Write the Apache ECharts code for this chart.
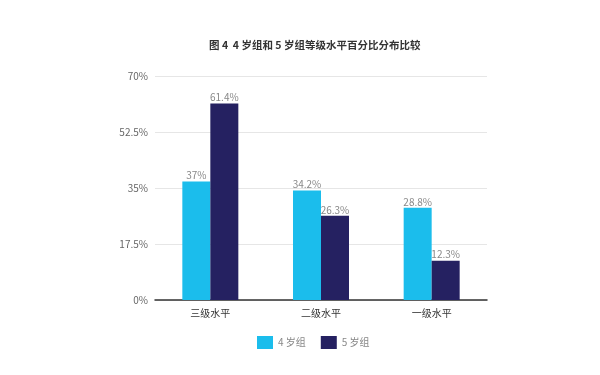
<!DOCTYPE html>
<html><head><meta charset="utf-8">
<script src="https://cdn.jsdelivr.net/npm/echarts@6/dist/echarts.min.js"></script>
<style>html,body{margin:0;padding:0;background:#fff}#c{width:600px;height:375px}</style>
</head><body><div id="c"></div>
<script>
const categories = ['三级水平', '二级水平', '一级水平'];
const age4 = [37, 34.2, 28.8];
const age5 = [61.4, 26.3, 12.3];
const yTicks = [0, 17.5, 35, 52.5, 70];
const seriesNames = ['4 岁组', '5 岁组'];
const font = '"Noto Sans CJK SC", "Noto Sans", sans-serif';
const chart = echarts.init(document.getElementById('c'));
chart.setOption({
  animation: false,
  title: {text: '图 4  4 岁组和 5 岁组等级水平百分比分布比较', left: 204, top: 35,
    textStyle: {fontSize: 10.5, fontWeight: 'bold', color: '#333', fontFamily: font}},
  legend: {top: 331, left: 252, itemWidth: 16, itemHeight: 13, itemGap: 15,
    icon: 'rect', textStyle: {fontSize: 10, color: '#888', fontFamily: font}, data: seriesNames},
  grid: {left: 155, right: 113, top: 76, bottom: 75, containLabel: false},
  xAxis: {type: 'category', data: categories,
    axisLine: {lineStyle: {color: '#333', width: 1.5}}, axisTick: {show: false},
    axisLabel: {fontSize: 10, color: '#333', margin: 8, fontFamily: font}},
  yAxis: {type: 'value', min: 0, max: 70, interval: 17.5,
    axisLine: {show: false}, axisTick: {show: false},
    splitLine: {lineStyle: {color: '#e6e6e6'}},
    axisLabel: {fontSize: 10, color: '#666', margin: 7, fontFamily: font,
      formatter: v => v + '%'}},
  series: [
    {name: seriesNames[0], type: 'bar', data: age4, barWidth: 28, barGap: '0%',
      itemStyle: {color: '#1bbdec'},
      label: {show: true, position: 'top', distance: 1, fontSize: 10, color: '#888', fontFamily: font, formatter: p => p.value + '%'}},
    {name: seriesNames[1], type: 'bar', data: age5, barWidth: 28, barGap: '0%',
      itemStyle: {color: '#252161'},
      label: {show: true, position: 'top', distance: 1, fontSize: 10, color: '#888', fontFamily: font, formatter: p => p.value + '%'}}
  ]
});
</script></body></html>
